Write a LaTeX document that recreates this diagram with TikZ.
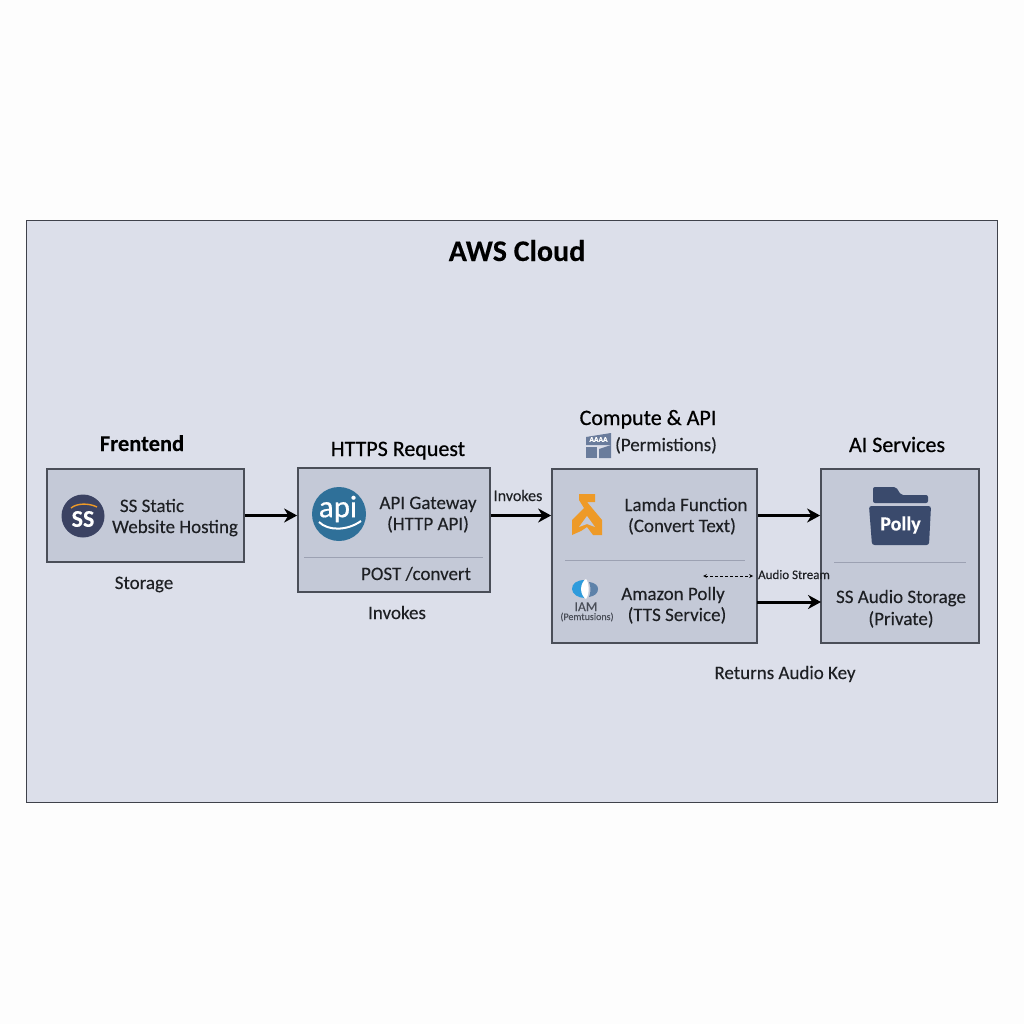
\documentclass[tikz,border=0pt]{standalone}
\usepackage{fontspec}
\setmainfont{Carlito}[FakeBold=0.15]
\newfontfamily\medfont{Carlito}[FakeBold=0.6]
\usetikzlibrary{arrows.meta}
\definecolor{pagecol}{HTML}{FDFDFD}
\definecolor{cloudcol}{HTML}{DCDFEA}
\definecolor{boxcol}{HTML}{C4C9D7}
\definecolor{edgecol}{HTML}{4A4E58}
\definecolor{sepcol}{HTML}{9CA1B2}
\definecolor{navycol}{HTML}{3B4262}
\definecolor{apicol}{HTML}{2F7099}
\definecolor{lamcol}{HTML}{EE9A27}
\definecolor{foldcol}{HTML}{3A4A6C}
\definecolor{iamcol}{HTML}{2E9BDC}
\definecolor{aaacol}{HTML}{6A7C9C}
\definecolor{txtcol}{HTML}{1E2024}
\tikzset{
  box/.style={draw=edgecol, line width=1.8pt, fill=boxcol, inner sep=0pt},
  head/.style={font=\medfont\fontsize{22}{26}\selectfont, text=black, inner sep=0pt, anchor=base},
  lbl/.style={font=\fontsize{19}{21.5}\selectfont, text=txtcol, inner sep=0pt, align=center, anchor=base},
  sep/.style={draw=sepcol, line width=0.9pt},
  flow/.style={-{Stealth[length=13pt,width=14pt]}, line width=3pt, draw=black}
}
\begin{document}
\begin{tikzpicture}[x=1pt, y=-1pt, >=stealth]
  \useasboundingbox[fill=pagecol] (0,0) rectangle (1024,1024);
  \node[box, draw=edgecol!85!black, fill=cloudcol, minimum width=971pt, minimum height=582pt] (cloud) at (512,511.5) {};
  \node[head, font=\fontsize{30}{32}\selectfont\bfseries] (title) at (517,261) {AWS Cloud};

  % the four boxes
  \node[box, minimum width=197pt, minimum height=93pt] (front) at (145.5,515.5) {};
  \node[box, minimum width=192pt, minimum height=124pt] (gate) at (394,530) {};
  \node[box, minimum width=205pt, minimum height=174pt] (comp) at (654.5,556) {};
  \node[box, minimum width=158pt, minimum height=174pt] (ai) at (900,556) {};

  \node[head, font=\fontsize{22.5}{26}\selectfont\bfseries] (fronthead) at (142,451) {Frentend};
  \node[head] (gatehead) at (398,456) {HTTPS Request};
  \node[head] (comphead) at (648,425) {Compute \& API};
  \node[head] (aihead) at (897,452) {AI Services};
  \node[lbl] (perm) at (666,451) {(Permistions)};

  % frontend
  \node[circle, fill=navycol, minimum size=43pt, inner sep=0pt] (ssicon) at (83,516) {};
  \node[inner sep=0pt, text=white, font=\fontsize{24}{26}\selectfont\bfseries] (sstext) at (83,519) {SS};
  \draw[lamcol, line width=1.4pt] (71,508) .. controls (77,503) and (89,503) .. (97,507);
  \node[lbl] (static) at (152,512) {SS Static};
  \node[lbl] (hosting) at (175,533) {Website Hosting};
  \node[lbl] (storage) at (144,589) {Storage};

  % gateway
  \node[circle, fill=apicol, minimum size=54pt, inner sep=0pt] (apiicon) at (339,514) {};
  \node[inner sep=0pt, text=white, font=\medfont\fontsize{31}{33}\selectfont] (apitext) at (338,509) {api};
  \draw[white, line width=2pt] (319,522) .. controls (328,531) and (347,531) .. (361,521);
  \node[lbl] (gatetext) at (428,509) {API Gateway};
  \node[lbl] (gatetextb) at (428,530) {(HTTP API)};
  \draw[sep] (304,557.5) -- (483,557.5);
  \node[lbl] (post) at (416,580) {POST /convert};
  \node[lbl] (invokes) at (397,619) {Invokes};

  % compute
  \fill[lamcol] (579,494) -- (595,494) -- (595,502) -- (587,502) -- (602,520) -- (602,535) -- (593,535)
    -- (587,527) -- (581,531) -- (572,535) -- (572,520) -- (584,508) -- (579,500) -- cycle;
  \fill[boxcol] (587,516) -- (595,527) -- (587,524) -- (579,527) -- cycle;
  \node[lbl] (lamda) at (686,511) {Lamda Function};
  \node[lbl] (lamdab) at (682,532) {(Convert Text)};
  \draw[sep] (565,560) -- (745,560);
  \fill[iamcol] (585,580) .. controls (576,580) and (572,584) .. (572,589) .. controls (572,594) and (578,598) .. (585,598) -- cycle;
  \fill[white] (581,589) .. controls (581,584) and (584,580) .. (586,579) .. controls (589,582) and (590,594) .. (586,599) .. controls (584,598) and (581,594) .. (581,589) -- cycle;
  \fill[aaacol!80!iamcol] (589,582) .. controls (596,583) and (598,586) .. (598,589) .. controls (598,593) and (595,596) .. (589,597) .. controls (591,592) and (591,587) .. (589,582) -- cycle;
  \node[lbl, font=\fontsize{13.5}{15}\selectfont, text=edgecol] (iam) at (586,611) {IAM};
  \node[lbl, font=\fontsize{10}{11}\selectfont, text=edgecol] (permsmall) at (587,620) {(Pemtusions)};
  \node[lbl] (polly) at (673,600) {Amazon Polly};
  \node[lbl] (pollyb) at (677,621) {(TTS Service)};

  % small permissions icon
  \fill[aaacol] (586,437) -- (611,433) -- (611,445) -- (586,445) -- cycle;
  \fill[aaacol] (586,447) -- (597,447) -- (597,458) -- (586,458) -- cycle;
  \fill[aaacol] (599,449) -- (611,445) -- (611,458) -- (599,458) -- cycle;
  \node[inner sep=0pt, text=white, font=\fontsize{7.5}{8}\selectfont\bfseries] (aaa) at (598.5,439.5) {AAAA};

  % ai services
  \fill[foldcol, rounded corners=2pt] (873,503) -- (873,487) -- (896,487) -- (901,495) -- (928,495) -- (928,503) -- cycle;
  \fill[foldcol, rounded corners=2.5pt] (869,506) -- (931,506) -- (929,545) -- (872,545) -- cycle;
  \node[inner sep=0pt, text=white, font=\fontsize{20}{22}\selectfont\bfseries] (pollyicon) at (900.5,525) {Polly};
  \draw[sep] (834,562) -- (966,562);
  \node[lbl] (audio) at (901,603) {SS Audio Storage};
  \node[lbl] (audiob) at (901,625) {(Private)};
  \node[lbl] (returns) at (785,679) {Returns Audio Key};

  % connectors
  \coordinate (gatein) at (front.east -| gate.west);
  \coordinate (gateout) at (gate.east |- front.east);
  \coordinate (compin) at (comp.west |- front.east);
  \coordinate (compout) at (comp.east |- front.east);
  \coordinate (aiin) at (ai.west |- front.east);
  \coordinate (pollyout) at (757,602);
  \coordinate (pollyin) at (821,602);
  \coordinate (streamA) at (703,576);
  \coordinate (streamB) at (753,576);

  \draw[flow] (front.east) -- (gatein);
  \draw[flow] (gateout) -- (compin);
  \draw[flow] (compout) -- (aiin);
  \draw[flow] (pollyout) -- (pollyin);
  \draw[<->, densely dashed, line width=0.7pt, black] (streamA) -- (streamB);
  \node[lbl, font=\fontsize{13}{15}\selectfont] (stream) at (794,579) {Audio Stream};
  \node[lbl, font=\fontsize{16}{18}\selectfont] (invokeslbl) at (518,501) {Invokes};
\end{tikzpicture}
\end{document}
